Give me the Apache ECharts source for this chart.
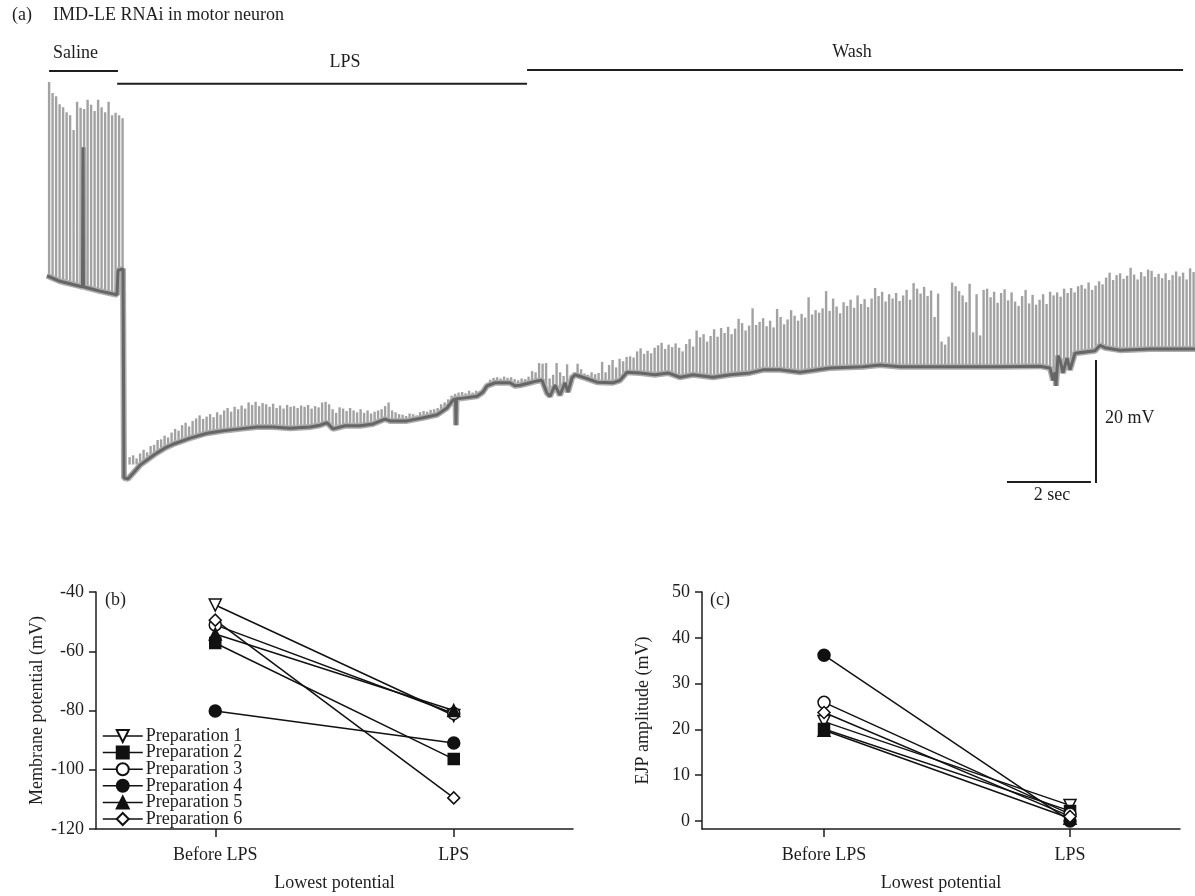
<!DOCTYPE html>
<html>
<head>
<meta charset="utf-8">
<script src="https://cdn.jsdelivr.net/npm/echarts@6/dist/echarts.min.js"></script>
<style>
  html, body { margin: 0; padding: 0; background: #fff; }
  #chart { width: 1195px; height: 896px; }
</style>
</head>
<body>
<div id="chart"></div>
<script>
// ---------------- (a) intracellular recording ----------------
// Stimulus train: one evoked response every stimIntervalS seconds from traceStartS.
const traceStartS = 0.05;
const stimIntervalS = 1 / 12;

// Peak potential of each evoked response (mV); null = no response visible.
const responsePeakMv = [
  // saline
  -14.8, -16.6, -17.1, -18.4, -18.9, -19.7, -20.2, -22.6, -18.0, -19.0, -19.2,
  -17.7, -18.5, -19.5, -17.7, -18.9, -19.7, -18.0, -20.2, -19.8, -20.2, -20.7,
  null,
  // LPS
  -75.8, -75.5, -76.0, -75.2, -74.6, -75.0, -74.0, -73.8, -73.0, -72.9, -72.3, -72.6, -71.8, -71.2, -71.5,
  -70.6, -70.2, -70.8, -69.9, -69.5, -69.0, -69.6, -69.2, -68.8, -69.3, -68.5, -68.9, -68.2, -67.8, -68.4, -67.6, -68.0, -67.4, -67.9, -66.9,
  -67.3, -66.8, -67.5, -67.0, -67.2, -67.6, -67.1, -67.8, -67.4, -67.9, -67.3, -67.6, -67.5, -67.8, -67.4, -67.6, -67.3, -67.9, -67.5, -67.7,
  -66.9, -66.8, -67.2, -68.0, -68.6, -67.7, -67.9, -68.3, -67.8, -68.2, -68.5, -68.0, -68.6, -68.2, -68.7, -68.4, -68.2, -68.0, -67.5, -66.9,
  -68.2, -68.5, -68.8, -68.9, -69.1, -68.7, -68.8, -69.0, -68.5, -68.3, -68.4, -68.1, -68.0, -67.8, -67.2, -66.9, -66.4, -65.8, -65.5, -65.3,
  -65.2, -65.4, -65.0, -65.3, -65.0, -65.1, -64.6, -63.9, -63.2, -62.9, -62.8, -63.0, -62.7, -62.9, -62.8, -63.1, -63.3, -63.0, -63.1, -62.7,
  // wash
  -61.8, -62.0, -60.5, -60.6, -60.5, -63.0, -62.4, -60.5, -62.0, -62.6, -60.7, -62.5, -62.0, -60.6, -61.5,
  -62.2, -62.4, -62.0, -62.3, -62.1, -60.3, -62.0,
  -60.8, -60.0, -61.2, -59.8, -60.2, -59.5, -59.4, -59.6,
  -58.6, -58.1, -59.0, -58.5, -58.9,
  -58.0, -57.6, -57.2, -58.2, -57.5, -57.9, -57.3, -58.0, -58.6,
  -57.4, -56.6, -57.8, -55.2, -56.3, -55.8,
  -57.0, -56.1, -55.0, -56.2, -54.8, -55.6,
  -54.6, -55.8, -54.9, -53.3, -54.0, -55.2,
  -54.4, -51.6, -54.3, -53.8, -53.2, -54.5,
  -53.6, -54.7, -51.7, -53.0, -54.2, -53.4, -51.9,
  -52.8, -53.6, -52.5, -53.1, -49.8, -52.6, -51.9,
  -52.3, -51.6, -48.8, -52.0, -50.0, -51.3, -52.4,
  -50.6, -51.2, -50.2, -51.5, -49.5, -50.9, -50.1,
  -51.4, -50.0, -48.3, -49.6, -48.9, -50.5, -49.3,
  -50.0, -49.1, -50.4, -49.5, -48.6, -50.2, -47.5, -48.4, -49.2, -48.1, -49.6, -48.7,
  -53.0, -49.2, -57.0, -57.5, -56.2,
  -47.4, -48.0, -48.8, -49.5, -50.6, -47.6,
  -55.5, -49.3, -56.0, -48.6,
  -48.4, -49.8, -48.9, -50.7, -49.1, -48.5, -50.3, -49.0, -50.5, -51.2, -49.6, -48.6, -50.8, -49.4, -51.0, -50.2, -49.3, -50.9, -48.9,
  -49.5, -49.0, -49.7, -48.4, -49.1, -48.3, -49.0, -48.0,
  -47.8, -48.4, -47.4, -48.6, -47.9, -47.2,
  -47.7, -46.6, -45.8, -47.0, -46.2, -45.9, -46.8, -46.3, -45.0, -46.1, -46.9, -45.7, -46.4, -45.3,
  -45.5, -46.5, -46.0, -46.7, -45.9, -47.0, -46.2, -45.6, -46.4, -45.8, -46.9, -45.1, -45.7
];

// Resting (between-response) membrane potential along the recording.
const restTimeS = [
  0, 0.31, 0.786, 0.845, 0.857, 0.869, 1.262, 1.667, 1.69, 1.81, 1.833, 1.929, 2.048, 2.214, 2.452,
  2.619, 2.81, 3.0, 3.405, 3.81, 4.19, 4.595, 5.0, 5.381, 5.786, 6.262, 6.5, 6.667, 6.81, 7.095,
  7.452, 7.762, 8.048, 8.167, 8.571, 8.952, 9.286, 9.524, 9.667, 9.726, 9.738, 9.75, 9.905, 10.238, 10.381,
  10.476, 10.667, 11.024, 11.143, 11.262, 11.5, 11.667, 11.786, 11.905, 11.976, 12.095, 12.214, 12.333, 12.405, 12.5,
  12.571, 12.81, 13.095, 13.476, 13.643, 13.81, 14.119, 14.476, 14.786, 15.071, 15.381, 15.857, 16.262, 16.738, 17.048,
  17.452, 17.929, 18.643, 19.429, 19.833, 20.31, 21.5, 22.69, 23.643, 23.881, 23.952, 24.0, 24.024, 24.071, 24.119,
  24.19, 24.286, 24.357, 24.476, 24.714, 24.952, 25.071, 25.19, 25.548, 26.262, 26.857, 27.333
];
const restMv = [
  -46.3, -47.2, -48.0, -48.1, -25.4, -48.1, -48.8, -49.4, -45.4, -45.2, -79.2, -79.3, -78.4, -77.1, -75.9,
  -75.1, -74.3, -73.7, -72.7, -71.9, -71.5, -71.2, -70.9, -70.9, -71.1, -70.9, -70.6, -70.2, -71.2, -70.7,
  -70.7, -70.4, -69.6, -69.9, -69.9, -69.4, -68.9, -67.8, -66.5, -66.3, -70.6, -66.3, -66.2, -65.9, -65.2,
  -64.2, -63.7, -63.7, -64.2, -64.1, -63.7, -63.4, -63.3, -65.4, -65.9, -64.1, -65.7, -63.7, -65.2, -62.9,
  -62.4, -62.9, -63.6, -63.7, -63.3, -62.0, -62.1, -62.4, -62.1, -62.8, -62.4, -62.8, -62.4, -62.1, -61.6,
  -61.6, -62.0, -61.3, -61.1, -60.8, -61.1, -61.1, -61.1, -61.0, -61.3, -63.3, -62.0, -64.2, -59.3, -60.0,
  -62.1, -59.7, -61.6, -58.9, -58.7, -58.5, -57.6, -58.0, -58.4, -58.2, -58.2, -58.2
];

// Bath solution periods (s).
const solutionNames = ['Saline', 'LPS', 'Wash'];
const solutionStartS = [0.05, 1.67, 11.43];
const solutionEndS = [1.69, 11.43, 27.05];

// Calibration bar.
const calibrationSec = 2;
const calibrationMv = 20;

// ---------------- (b), (c) summary ----------------
const conditions = ['Before LPS', 'LPS'];
const prepNames = ['Preparation 1', 'Preparation 2', 'Preparation 3', 'Preparation 4', 'Preparation 5', 'Preparation 6'];
const lowestBeforeMv = [-44.4, -57.2, -51.1, -80.2, -54.2, -49.5];
const lowestLpsMv = [-81.7, -96.4, -81.0, -91.0, -80.0, -109.5];
const ejpBeforeMv = [21.7, 20.1, 25.9, 36.2, 19.8, 23.7];
const ejpLpsMv = [3.4, 2.2, 1.5, 0.0, 0.6, 1.0];
const membraneTicks = [-120, -100, -80, -60, -40];
const ejpTicks = [0, 10, 20, 30, 40, 50];

// ---------------- drawing ----------------
const FONT = "'Times New Roman', 'Liberation Serif', serif";
const INK = '#1e1e1e';
const TRACE_MIN = -83, TRACE_MAX = -8;

const chart = echarts.init(document.getElementById('chart'));

const responseData = [];
responsePeakMv.forEach((v, i) => {
  if (v !== null) responseData.push([traceStartS + i * stimIntervalS, v]);
});
const restData = restTimeS.map((t, i) => [t, restMv[i]]);

const solutionLevels = [-13.0, -15.1, -12.85];
const solutionSeries = solutionNames.map((name, k) => ({
  type: 'line', xAxisIndex: 0, yAxisIndex: 0, z: 6, silent: true,
  showSymbol: false, animation: false,
  lineStyle: { color: INK, width: 2 },
  data: [[solutionStartS[k], solutionLevels[k]], [solutionEndS[k], solutionLevels[k]]]
}));

const calT = 24.976, calV = -80;
const calibrationSeries = [
  { type: 'line', xAxisIndex: 0, yAxisIndex: 0, z: 8, silent: true, showSymbol: false, animation: false,
    lineStyle: { color: INK, width: 2 },
    data: [[calT - 0.12 - calibrationSec, calV + 0.15], [calT - 0.12, calV + 0.15]] },
  { type: 'line', xAxisIndex: 0, yAxisIndex: 0, z: 8, silent: true, showSymbol: false, animation: false,
    lineStyle: { color: INK, width: 2 },
    data: [[calT, calV], [calT, calV + calibrationMv]] }
];

const prepSymbols = ['path://M0,0L10,0L5,9Z', 'rect', 'circle', 'circle', 'triangle', 'diamond'];
const prepFills = ['#fff', '#111', '#fff', '#111', '#111', '#fff'];
const prepSizes = [12, 11, 12, 12, 12, 12];

function prepSeries(axisIndex, before, after) {
  return prepNames.map((name, k) => ({
    name, type: 'line', xAxisIndex: axisIndex, yAxisIndex: axisIndex,
    animation: false, z: 3,
    symbol: prepSymbols[k], symbolSize: prepSizes[k], showSymbol: true,
    itemStyle: { color: prepFills[k], borderColor: '#111', borderWidth: 1.5 },
    lineStyle: { color: '#111', width: 1.5 },
    emphasis: { disabled: true },
    data: [[0, before[k]], [1, after[k]]]
  }));
}

const axisLineStyle = { lineStyle: { color: INK, width: 1.5 } };
const labelStyle = { color: INK, fontSize: 18, fontFamily: FONT };

function conditionAxis(gridIndex, min, max) {
  return {
    gridIndex, type: 'value', min, max,
    axisLine: Object.assign({ show: true, onZero: false }, axisLineStyle),
    axisTick: { show: true, length: 8, customValues: [0, 1], lineStyle: { color: INK, width: 1.5 } },
    axisLabel: Object.assign({ margin: 17, customValues: [0, 1], formatter: v => conditions[Math.round(v)] }, labelStyle),
    splitLine: { show: false },
    name: 'Lowest potential', nameLocation: 'middle', nameGap: 45, nameMoveOverlap: false,
    nameTextStyle: labelStyle
  };
}

function valueAxis(gridIndex, min, max, ticks, name) {
  return {
    gridIndex, type: 'value', min, max,
    axisLine: Object.assign({ show: true, onZero: false }, axisLineStyle),
    axisTick: { show: true, length: 7, customValues: ticks, lineStyle: { color: INK, width: 1.5 } },
    axisLabel: Object.assign({ margin: 12, customValues: ticks }, labelStyle),
    splitLine: { show: false },
    name, nameLocation: 'middle', nameGap: 50, nameRotate: 90, nameMoveOverlap: false,
    nameTextStyle: labelStyle
  };
}

function text(x, y, str, align, vAlign) {
  return {
    type: 'text', x, y, silent: true, z: 20,
    style: { text: str, fill: INK, fontSize: 18, fontFamily: FONT, align: align || 'left', verticalAlign: vAlign || 'top' }
  };
}

const option = {
  backgroundColor: '#fff',
  animation: false,
  grid: [
    { left: 47, top: 40.2, width: 1148, height: 461.25, outerBoundsMode: 'none' },
    { left: 96, top: 592, width: 477, height: 237, outerBoundsMode: 'none' },
    { left: 702, top: 592, width: 478, height: 237, outerBoundsMode: 'none' }
  ],
  xAxis: [
    { gridIndex: 0, type: 'value', min: 0, max: 1148 / 42, show: false },
    conditionAxis(1, -0.5, 1.5),
    conditionAxis(2, -0.496, 1.447)
  ],
  yAxis: [
    { gridIndex: 0, type: 'value', min: TRACE_MIN, max: TRACE_MAX, show: false },
    valueAxis(1, -120, -40, membraneTicks, 'Membrane potential (mV)'),
    valueAxis(2, -1.75, 50, ejpTicks, 'EJP amplitude (mV)')
  ],
  legend: {
    data: prepNames, orient: 'vertical', left: 102, top: 727, padding: 0,
    itemWidth: 40, itemHeight: 15, itemGap: -1.4, selectedMode: false,
    lineStyle: { color: '#111', width: 1.5 },
    textStyle: { color: INK, fontSize: 18, fontFamily: FONT, lineHeight: 16, padding: [0, 0, 0, -2] }
  },
  series: [
    {
      type: 'custom', xAxisIndex: 0, yAxisIndex: 0, z: 1, silent: true, animation: false,
      data: responseData,
      renderItem(params, api) {
        const top = api.coord([api.value(0), api.value(1)]);
        const bottom = api.coord([api.value(0), TRACE_MIN + 6]);
        return {
          type: 'line',
          shape: { x1: top[0], y1: top[1], x2: bottom[0], y2: bottom[1] },
          style: { stroke: '#a2a2a2', lineWidth: 2.4 }
        };
      }
    },
    {
      type: 'line', xAxisIndex: 0, yAxisIndex: 0, z: 2, silent: true, animation: false,
      showSymbol: false, data: restData,
      lineStyle: { color: '#adadad', width: 6 },
      areaStyle: { color: '#fff', opacity: 1, origin: 'start' }
    },
    {
      type: 'line', xAxisIndex: 0, yAxisIndex: 0, z: 3, silent: true, animation: false,
      showSymbol: false, data: restData,
      lineStyle: { color: '#666', width: 3 }
    },
    ...solutionSeries,
    ...calibrationSeries,
    ...prepSeries(1, lowestBeforeMv, lowestLpsMv),
    ...prepSeries(2, ejpBeforeMv, ejpLpsMv)
  ],
  graphic: [
    text(12, 6, '(a)'),
    text(53, 6, 'IMD-LE RNAi in motor neuron'),
    text(53, 44, solutionNames[0]),
    text(345, 53, solutionNames[1], 'center'),
    text(852, 43, solutionNames[2], 'center'),
    text(1105, 418, calibrationMv + ' mV', 'left', 'middle'),
    text(1052, 495, calibrationSec + ' sec', 'center', 'middle'),
    text(105, 591, '(b)'),
    text(710, 591, '(c)')
  ]
};

chart.setOption(option);
</script>
</body>
</html>
